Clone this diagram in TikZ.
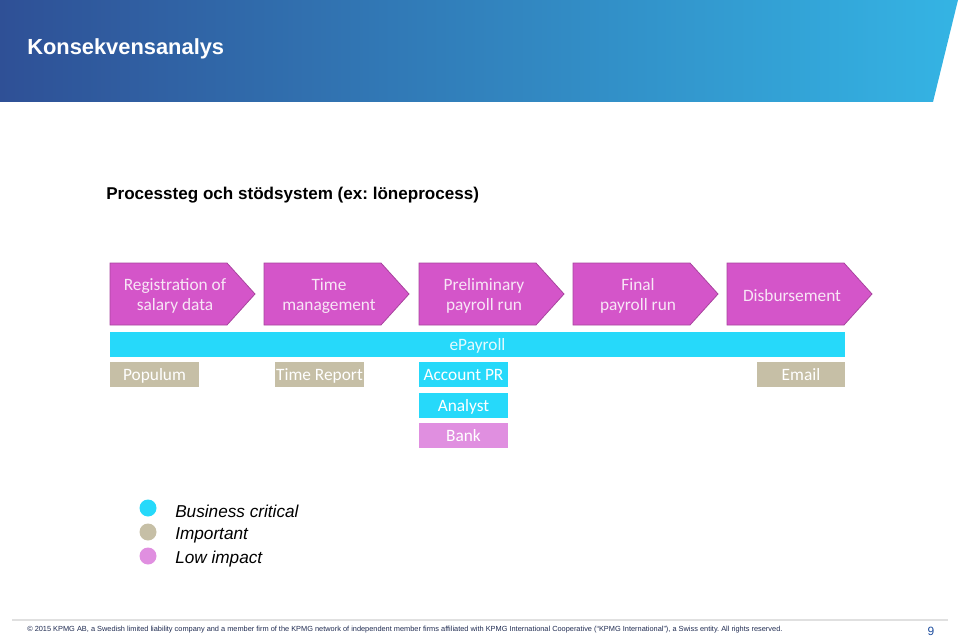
\documentclass[tikz,border=0pt]{standalone}
\usepackage{fontspec}
\setmainfont{Liberation Sans}
\newfontfamily\calib{Carlito}
\frenchspacing
\definecolor{hdrL}{HTML}{2F5096}
\definecolor{hdrR}{HTML}{34B4E4}
\definecolor{chevF}{HTML}{D455C9}
\definecolor{chevD}{HTML}{A8449E}
\definecolor{chevT}{HTML}{F8E6F6}
\definecolor{cyanB}{HTML}{26D9FA}
\definecolor{tanB}{HTML}{C6BFA6}
\definecolor{pinkB}{HTML}{E08FE0}
\definecolor{footT}{HTML}{1E2A50}
\definecolor{pageN}{HTML}{1F4E9E}
\tikzset{
  chev/.style={fill=chevF, draw=chevD, line width=0.6pt, line join=miter},
  chevtext/.style={text=chevT, font=\calib\fontsize{13}{15}\selectfont, align=center, inner sep=0pt},
  sysbox/.style={minimum height=18.75pt, inner sep=0pt, outer sep=0pt, text height=11pt, text depth=1.6pt, text=white, font=\calib\fontsize{13}{15}\selectfont},
  legdot/.style={circle, minimum size=12.75pt, inner sep=0pt},
  legtext/.style={anchor=west, inner sep=0pt, font=\fontsize{12.9}{15}\selectfont\itshape, text=black},
}
\begin{document}
\begin{tikzpicture}[x=0.75pt, y=-0.75pt]
\useasboundingbox (0,0) rectangle (960,638);
% header
\shade[left color=hdrL, right color=hdrR] (0,0) -- (958,0) -- (933,102) -- (0,102) -- cycle;
\node[anchor=west, inner sep=0pt, text=white, font=\fontsize{16.4}{18}\selectfont\bfseries] (title) at (27,49) {Konsekvensanalys};
% subtitle
\node[anchor=west, inner sep=0pt, font=\fontsize{12.8}{15}\selectfont\bfseries] (sub) at (106,195) {Processteg och stödsystem (ex: löneprocess)};
% chevrons
\draw[chev] (110,263) -- (227,263) -- (255,294) -- (227,325) -- (110,325) -- cycle;
\node[chevtext] (c1) at (175,296) {Registration of\\salary data};
\draw[chev] (264,263) -- (381,263) -- (409,294) -- (381,325) -- (264,325) -- cycle;
\node[chevtext] (c2) at (329,296) {Time\\management};
\draw[chev] (419,263) -- (536,263) -- (564,294) -- (536,325) -- (419,325) -- cycle;
\node[chevtext] (c3) at (484,296) {Preliminary\\payroll run};
\draw[chev] (573,263) -- (690,263) -- (718,294) -- (690,325) -- (573,325) -- cycle;
\node[chevtext] (c4) at (638,296) {Final\\payroll run};
\draw[chev] (727,263) -- (844,263) -- (872,294) -- (844,325) -- (727,325) -- cycle;
\node[chevtext] (c5) at (792,296) {Disbursement};
% systems
\node[sysbox, fill=cyanB, minimum width=551.25pt, text=white!88!cyanB] (epay) at (477.5,344.5) {ePayroll};
\node[sysbox, fill=tanB, minimum width=66.75pt] (populum) at (154.5,374.5) {Populum};
\node[sysbox, fill=tanB, minimum width=66.75pt] (timerep) at (319.5,374.5) {Time Report};
\node[sysbox, fill=cyanB, minimum width=66.75pt] (accpr) at (463.5,374.5) {Account PR};
\node[sysbox, fill=cyanB, minimum width=66.75pt] (analyst) at (463.5,405) {Analyst};
\node[sysbox, fill=pinkB, minimum width=66.75pt] (bank) at (463.5,435) {Bank};
\node[sysbox, fill=tanB, minimum width=66pt] (email) at (801,374.5) {Email};
% legend
\node[legdot, fill=cyanB] (d1) at (148,508) {};
\node[legdot, fill=tanB] (d2) at (148,532) {};
\node[legdot, fill=pinkB] (d3) at (148,556) {};
\node[legtext] (l1) at (175,511) {Business critical};
\node[legtext] (l2) at (175,535) {Important};
\node[legtext] (l3) at (175,559) {Low impact};
% footer
\draw[black!12, line width=1.5pt] (12,620) -- (948,620);
\node[anchor=west, inner sep=0pt, text=footT, font=\fontsize{5.54}{7}\selectfont] (foot) at (27,630) {© 2015 KPMG AB, a Swedish limited liability company and a member firm of the KPMG network of independent member firms affiliated with KPMG International Cooperative (“KPMG International”), a Swiss entity. All rights reserved.};
\node[inner sep=0pt, text=pageN, font=\fontsize{9}{10}\selectfont] (pg) at (931,631) {9};
\end{tikzpicture}
\end{document}
